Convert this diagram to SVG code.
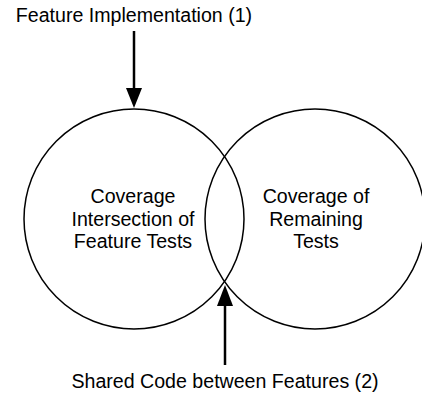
<svg xmlns="http://www.w3.org/2000/svg" width="422" height="395" viewBox="0 0 422 395">
<style>
text{font-family:"Liberation Sans",Arial,sans-serif;font-size:19.6px;fill:#000;text-anchor:middle}
.c{fill:none;stroke:#000;stroke-width:1.5}
.a{stroke:#000;stroke-width:2.5;fill:none}
</style>
<g id="title1"><text x="134" y="22">Feature Implementation (1)</text></g>
<g id="left-circle">
<circle class="c" cx="134" cy="219" r="110"/>
<text x="133" y="203">Coverage</text>
<text x="133" y="226">Intersection of</text>
<text x="133" y="248">Feature Tests</text>
</g>
<g id="right-circle">
<circle class="c" cx="315" cy="219" r="110"/>
<text x="316" y="203">Coverage of</text>
<text x="316" y="226">Remaining</text>
<text x="316" y="248">Tests</text>
</g>
<g id="title2"><text x="225" y="388">Shared Code between Features (2)</text></g>
<g id="connectors">
<line class="a" x1="134" y1="31" x2="134" y2="92"/>
<path d="M126,88 L142,88 L134,108 Z" fill="#000"/>
<line class="a" x1="225" y1="365" x2="225" y2="302"/>
<path d="M217,306 L233,306 L225,285 Z" fill="#000"/>
</g>
</svg>
